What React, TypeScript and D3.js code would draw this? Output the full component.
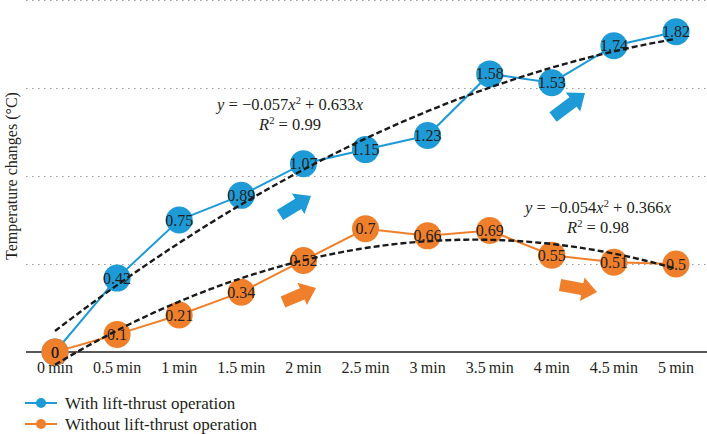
import React from "react";
import * as d3 from "d3";

const categories = ["0 min", "0.5 min", "1 min", "1.5 min", "2 min", "2.5 min", "3 min", "3.5 min", "4 min", "4.5 min", "5 min"];
const withLift = [0, 0.42, 0.75, 0.89, 1.07, 1.15, 1.23, 1.58, 1.53, 1.74, 1.82];
const withoutLift = [0, 0.1, 0.21, 0.34, 0.52, 0.7, 0.66, 0.69, 0.55, 0.51, 0.5];
const yTicks = [0.5, 1, 1.5, 2];
const seriesNames = ["With lift-thrust operation", "Without lift-thrust operation"];
const equations = [
  { eq: ["y", " = \u22120.057", "x", "2", " + 0.633", "x"], r2: "0.99" },
  { eq: ["y", " = \u22120.054", "x", "2", " + 0.366", "x"], r2: "0.98" },
];

const BLUE = "#1e9ad6";
const ORANGE = "#f07f2b";
const FONT = "'Liberation Serif', 'DejaVu Serif', serif";
const TXT = "#231f20";

function quadFit(ys: number[]) {
  const n = ys.length;
  let s0 = n, s1 = 0, s2 = 0, s3 = 0, s4 = 0, y0 = 0, y1 = 0, y2 = 0;
  ys.forEach((y, i) => {
    s1 += i; s2 += i * i; s3 += i ** 3; s4 += i ** 4;
    y0 += y; y1 += i * y; y2 += i * i * y;
  });
  const M = [
    [s4, s3, s2, y2],
    [s3, s2, s1, y1],
    [s2, s1, s0, y0],
  ];
  for (let c = 0; c < 3; c++) {
    for (let r = c + 1; r < 3; r++) {
      const f = M[r][c] / M[c][c];
      for (let k = c; k < 4; k++) M[r][k] -= f * M[c][k];
    }
  }
  const sol = [0, 0, 0];
  for (let r = 2; r >= 0; r--) {
    let s = M[r][3];
    for (let k = r + 1; k < 3; k++) s -= M[r][k] * sol[k];
    sol[r] = s / M[r][r];
  }
  const [a, b, c] = sol;
  return (t: number) => a * t * t + b * t + c;
}

function Arrow({ x1, y1, x2, y2, color }: { x1: number; y1: number; x2: number; y2: number; color: string }) {
  const ang = (Math.atan2(y2 - y1, x2 - x1) * 180) / Math.PI;
  const L = Math.hypot(x2 - x1, y2 - y1);
  const hw = 6, headW = 12, headL = 15;
  const pts = [
    [0, -hw], [L - headL, -hw], [L - headL, -headW], [L, 0], [L - headL, headW], [L - headL, hw], [0, hw],
  ];
  return (
    <polygon
      points={pts.map((p) => p.join(",")).join(" ")}
      fill={color}
      transform={`translate(${x1},${y1}) rotate(${ang})`}
    />
  );
}

export default function App() {
  const W = 707, H = 434;
  const x = d3.scalePoint<string>().domain(categories).range([55, 676]);
  const y = d3.scaleLinear().domain([0, 2]).range([352, 0]);
  const idx = d3.scaleLinear().domain([0, categories.length - 1]).range([55, 676]);

  const line = d3.line<number>().x((_, i) => x(categories[i])!).y((d) => y(d));
  const series = [
    { data: withLift, color: BLUE },
    { data: withoutLift, color: ORANGE },
  ];
  const ts = d3.range(0, 10.0001, 0.1);

  const fits = series.map((s) => {
    const f = quadFit(s.data);
    return d3.line<number>().x((t) => idx(t)).y((t) => y(f(t)))(ts)!;
  });

  return (
    <div style={{ position: "fixed", left: 0, top: 0 }}>
      <svg width={W} height={H} style={{ display: "block", background: "#fff" }} fontFamily={FONT}>
        {yTicks.map((t) => (
          <line key={t} x1={26} x2={707} y1={y(t) + 0.5} y2={y(t) + 0.5} stroke="#9a9a9a" strokeWidth={1} strokeDasharray="1.5,4.5" />
        ))}
        <line x1={26} x2={707} y1={y(0)} y2={y(0)} stroke="#231f20" strokeWidth={1.3} />
        {categories.map((c) => (
          <text key={c} x={x(c)} y={373} textAnchor="middle" fontSize={16} fill={TXT}>
            {c.replace(" ", "\u2009")}
          </text>
        ))}
        <text transform="translate(17,176) rotate(-90)" textAnchor="middle" fontSize={16} fill={TXT}>
          Temperature changes (°C)
        </text>

        <Arrow x1={280} y1={215} x2={311} y2={196} color={BLUE} />
        <Arrow x1={553} y1={117} x2={585} y2={93} color={BLUE} />
        <Arrow x1={283} y1={302} x2={316} y2={288} color={ORANGE} />
        <Arrow x1={560} y1={285} x2={597} y2={292} color={ORANGE} />

        {series.map((s, k) => (
          <path key={k} d={line(s.data)!} fill="none" stroke={s.color} strokeWidth={2} />
        ))}
        {series.map((s, k) =>
          s.data.map((v, i) => (
            <circle key={`${k}-${i}`} cx={x(categories[i])} cy={y(v)} r={13.5} fill={s.color} />
          ))
        )}
        {series.map((s, k) =>
          s.data.map((v, i) => (
            <text key={`t${k}-${i}`} x={x(categories[i])} y={y(v) + 5.5} textAnchor="middle" fontSize={16} fill={TXT}>
              {String(v)}
            </text>
          ))
        )}
        {fits.map((d, k) => (
          <path key={`f${k}`} d={d} fill="none" stroke="#1a1a1a" strokeWidth={2.4} strokeDasharray="6,3" />
        ))}

        {[
          { cx: 290, cy: 110 },
          { cx: 598, cy: 213 },
        ].map((p, k) => (
          <g key={`e${k}`} fontSize={16.5} fill={TXT}>
            <text x={p.cx} y={p.cy} textAnchor="middle">
              <tspan fontStyle="italic">{equations[k].eq[0]}</tspan>
              <tspan>{equations[k].eq[1]}</tspan>
              <tspan fontStyle="italic">{equations[k].eq[2]}</tspan>
              <tspan fontSize={10.5} dy={-6}>{equations[k].eq[3]}</tspan>
              <tspan dy={6}>{equations[k].eq[4]}</tspan>
              <tspan fontStyle="italic">{equations[k].eq[5]}</tspan>
            </text>
            <text x={p.cx} y={p.cy + 20} textAnchor="middle">
              <tspan fontStyle="italic">R</tspan>
              <tspan fontSize={10.5} dy={-6}>2</tspan>
              <tspan dy={6}>{` = ${equations[k].r2}`}</tspan>
            </text>
          </g>
        ))}

        {seriesNames.map((n, k) => (
          <g key={n} transform={`translate(0,${403 + k * 21})`}>
            <line x1={25} x2={57} y1={0} y2={0} stroke={series[k].color} strokeWidth={2} />
            <circle cx={41} cy={0} r={5} fill={series[k].color} />
            <text x={65} y={5.5} fontSize={17} fill={TXT}>{n}</text>
          </g>
        ))}
      </svg>
    </div>
  );
}
